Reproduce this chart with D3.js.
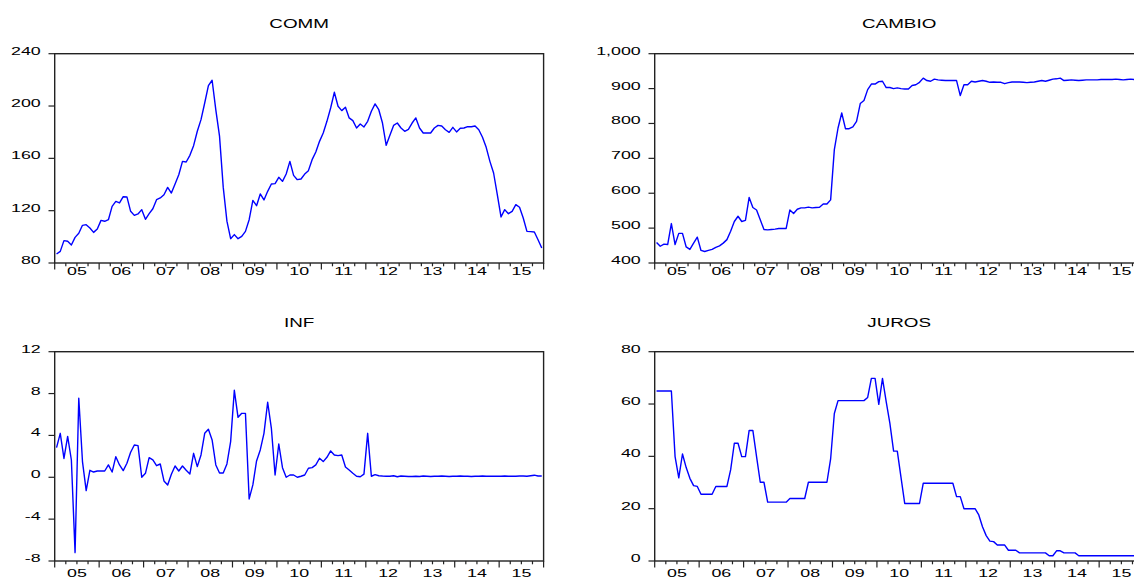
<!DOCTYPE html>
<html>
<head>
<meta charset="utf-8">
<script src="https://cdn.jsdelivr.net/npm/d3@7"></script>
<style>
  body { margin: 0; background: #ffffff; }
  svg { display: block; }
  text { font-family: Arial, "Liberation Sans", Helvetica, sans-serif; fill: #000; }
</style>
</head>
<body>
<svg id="chart" width="1134" height="578"></svg>
<script>
// Monthly series, January 2005 to December 2015
const firstYear = 2005;
const lastYear = 2016;
const yearLabels = ["05", "06", "07", "08", "09", "10", "11", "12", "13", "14", "15"];

const comm = [
  86.9, 88.9, 97.1, 96.6, 93.8, 99.6, 102.7, 108.8, 109.3, 106.8, 103.4, 106.0,
  112.6, 111.9, 113.1, 123.3, 127.1, 125.9, 130.7, 130.5, 119.5, 116.4, 117.5, 120.8,
  113.4, 117.7, 121.5, 128.4, 129.7, 132.2, 137.8, 133.5, 140.4, 147.5, 157.7, 157.2,
  162.3, 169.7, 180.7, 189.6, 202.3, 215.6, 219.7, 197.0, 177.0, 138.0, 112.0, 98.6,
  101.7, 98.6, 100.4, 104.2, 113.1, 127.9, 123.8, 132.8, 128.2, 134.8, 140.4, 140.7,
  145.5, 142.4, 148.0, 157.7, 147.0, 143.7, 144.2, 148.0, 150.6, 159.0, 164.9, 173.0,
  179.4, 188.3, 198.5, 210.5, 199.8, 196.5, 199.0, 190.9, 188.8, 183.2, 186.3, 184.0,
  188.3, 196.0, 201.6, 197.2, 187.0, 170.0, 177.6, 185.2, 187.0, 183.2, 180.7, 182.2,
  187.0, 190.9, 183.2, 179.4, 179.4, 179.4, 183.2, 185.2, 184.7, 181.9, 179.9, 183.7,
  180.2, 183.0, 183.2, 184.2, 184.2, 184.7, 181.9, 176.1, 168.4, 157.7, 148.8, 132.2,
  115.2, 120.8, 117.7, 119.5, 124.6, 122.6, 114.4, 104.2, 104.0, 103.7, 97.8, 91.5
];

const cambio = [
  459, 448, 454, 453, 513, 453, 485, 485, 446, 439, 457, 474,
  436, 433, 436, 439, 445, 449, 457, 467, 491, 519, 534, 519,
  522, 588, 559, 552, 524, 496, 495, 496, 497, 499, 499, 499,
  552, 542, 554, 558, 558, 560, 558, 559, 560, 569, 569, 581,
  725, 787, 830, 785, 785, 790, 806, 857, 866, 897, 913, 913,
  920, 921, 903, 903, 900, 902, 900, 899, 899, 909, 911, 918,
  930, 923, 921, 927, 925, 924, 923, 923, 923, 923, 880, 911,
  911, 921, 919, 921, 923, 921, 918, 919, 918, 918, 914, 917,
  919, 919, 919, 918, 917, 918, 919, 921, 923, 921, 924, 927,
  928, 930, 923, 924, 925, 924, 923, 924, 925, 925, 925, 925,
  926, 926, 926, 926, 927, 926, 925, 926, 927, 926, 926, 927
];

const inf = [
  2.83, 4.2, 1.8, 3.9, 1.65, -7.2, 7.55, 1.5, -1.27, 0.67, 0.5, 0.6,
  0.6, 0.6, 1.18, 0.5, 1.97, 1.18, 0.64, 1.34, 2.39, 3.09, 3.03, 0.0,
  0.38, 1.88, 1.66, 1.11, 1.27, -0.35, -0.73, 0.29, 1.08, 0.6, 1.08, 0.67,
  0.32, 2.29, 1.02, 2.13, 4.2, 4.59, 3.57, 1.18, 0.41, 0.41, 1.27, 3.41,
  8.31, 5.73, 6.11, 6.11, -2.07, -0.73, 1.56, 2.61, 4.2, 7.17, 4.68, 0.22,
  3.18, 0.92, 0.0, 0.22, 0.22, 0.0, 0.1, 0.22, 0.86, 0.92, 1.18, 1.82,
  1.5, 1.91, 2.52, 2.13, 2.07, 2.13, 0.99, 0.7, 0.38, 0.1, 0.05, 0.3,
  4.2, 0.1, 0.25, 0.15, 0.12, 0.1, 0.1, 0.15, 0.05, 0.12, 0.1, 0.08,
  0.08, 0.1, 0.08, 0.12, 0.1, 0.08, 0.1, 0.1, 0.12, 0.1, 0.08, 0.1,
  0.1, 0.12, 0.1, 0.1, 0.08, 0.1, 0.1, 0.12, 0.1, 0.1, 0.1, 0.1,
  0.1, 0.12, 0.1, 0.1, 0.1, 0.12, 0.12, 0.1, 0.15, 0.2, 0.12, 0.12
];

const juros = [
  65, 65, 65, 65, 65, 39.9, 31.8, 40.9, 35.7, 31.6, 28.8, 28.5,
  25.5, 25.5, 25.5, 25.5, 28.5, 28.5, 28.5, 28.5, 34.8, 45, 45, 39.9,
  39.9, 49.9, 49.9, 39.9, 30.1, 30.1, 22.5, 22.5, 22.5, 22.5, 22.5, 22.5,
  23.9, 23.9, 23.9, 23.9, 23.9, 30.1, 30.1, 30.1, 30.1, 30.1, 30.1, 39,
  56.4, 61.3, 61.3, 61.3, 61.3, 61.3, 61.3, 61.3, 61.3, 62.5, 69.8, 69.8,
  59.9, 69.8, 60.9, 52.6, 42, 42, 32, 22, 22, 22, 22, 22,
  29.7, 29.7, 29.7, 29.7, 29.7, 29.7, 29.7, 29.7, 29.7, 24.6, 24.6, 20,
  20, 20, 20, 17.6, 13.1, 9.7, 7.6, 7.4, 6.1, 6.1, 6.1, 4.1,
  4.1, 4.1, 3.1, 3.1, 3.1, 3.1, 3.1, 3.1, 3.1, 3.1, 2.0, 2.0,
  3.9, 3.9, 3.1, 3.1, 3.1, 3.1, 2, 2, 2, 2, 2, 2,
  2, 2, 2, 2, 2, 2, 2, 2, 2, 2, 2, 2
];

const commTicks = [80, 120, 160, 200, 240];
const cambioTicks = [400, 500, 600, 700, 800, 900, 1000];
const infTicks = [-8, -4, 0, 4, 8, 12];
const jurosTicks = [0, 20, 40, 60, 80];

// Layout of the 2x2 grid
const plotW = 488.9;
const plotH = 209.3;
const panels = [
  { title: "COMM",   values: comm,   ticks: commTicks,   left: 54.7,  top: 53.7,  titleY: 28,  labelY: 274.5 },
  { title: "CAMBIO", values: cambio, ticks: cambioTicks, left: 654.7, top: 53.7,  titleY: 28,  labelY: 274.5 },
  { title: "INF",    values: inf,    ticks: infTicks,    left: 54.7,  top: 351.7, titleY: 327, labelY: 577 },
  { title: "JUROS",  values: juros,  ticks: jurosTicks,  left: 654.7, top: 351.7, titleY: 327, labelY: 577 }
];

const svg = d3.select("#chart");
const stretch = 1.55;       // wide lettering of the tick labels
const titleStretch = 1.45;
// thousands separator, plain hyphen for negatives
const numFmt = d3.formatLocale({ decimal: ".", thousands: ",", grouping: [3], currency: ["", ""], minus: "-" }).format(",");

function wideText(g, x, y, str, size, sx, anchor) {
  return g.append("text")
    .attr("transform", `translate(${x},${y}) scale(${sx},1)`)
    .attr("text-anchor", anchor)
    .attr("font-size", size)
    .text(str);
}

panels.forEach(p => {
  const g = svg.append("g");
  const x = d3.scaleLinear().domain([firstYear, lastYear]).range([p.left, p.left + plotW]);
  const y = d3.scaleLinear()
    .domain(d3.extent(p.ticks))
    .range([p.top + plotH, p.top]);

  // frame
  g.append("rect")
    .attr("x", p.left).attr("y", p.top)
    .attr("width", plotW).attr("height", plotH)
    .attr("fill", "none").attr("stroke", "#222").attr("stroke-width", 1.4);

  // y ticks and labels
  p.ticks.forEach(t => {
    g.append("line")
      .attr("x1", p.left - 6.2).attr("x2", p.left)
      .attr("y1", y(t)).attr("y2", y(t))
      .attr("stroke", "#222").attr("stroke-width", 1.2);
    wideText(g, p.left - 14, y(t) + 1, numFmt(t), 11.5, stretch, "end");
  });

  // x ticks: years (long) and quarters (short)
  const quarters = d3.range(firstYear, lastYear + 0.001, 0.25);
  quarters.forEach(q => {
    const major = Math.abs(q - Math.round(q)) < 1e-6;
    g.append("line")
      .attr("x1", x(q)).attr("x2", x(q))
      .attr("y1", p.top + plotH).attr("y2", p.top + plotH + (major ? 6.5 : 3.3))
      .attr("stroke", "#222").attr("stroke-width", 1.2);
  });
  yearLabels.forEach((lab, k) => {
    wideText(g, x(firstYear + k + 0.5), p.labelY, lab, 11.5, stretch, "middle");
  });

  // title
  wideText(g, p.left + plotW / 2, p.titleY, p.title, 13, titleStretch, "middle");

  // series
  const line = d3.line()
    .x((d, i) => x(firstYear + (i + 0.5) / 12))
    .y(d => y(d));
  g.append("path")
    .datum(p.values)
    .attr("d", line)
    .attr("fill", "none")
    .attr("stroke", "#0000ff")
    .attr("stroke-width", 1.4)
    .attr("stroke-linejoin", "round");
});
</script>
</body>
</html>
